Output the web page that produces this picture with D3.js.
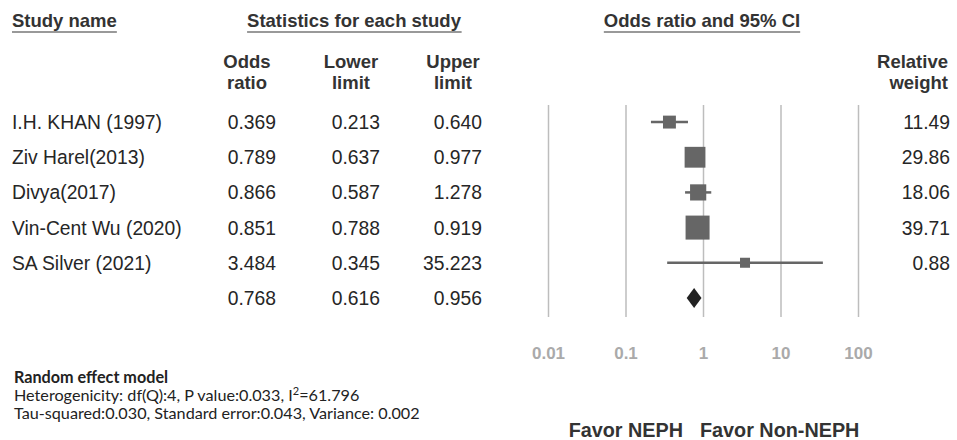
<!DOCTYPE html>
<html>
<head>
<meta charset="utf-8">
<script src="https://cdn.jsdelivr.net/npm/d3@7"></script>
<style>
  body { margin: 0; background: #fff; }
  svg { display: block; font-family: 'Liberation Sans', Arial, sans-serif; }
</style>
</head>
<body>
<div id="chart"></div>
<script>
// Data
const studies = ['I.H. KHAN (1997)', 'Ziv Harel(2013)', 'Divya(2017)', 'Vin-Cent Wu (2020)', 'SA Silver (2021)']
const oddsRatio = [0.369, 0.789, 0.866, 0.851, 3.484]
const lowerLimit = [0.213, 0.637, 0.587, 0.788, 0.345]
const upperLimit = [0.640, 0.977, 1.278, 0.919, 35.223]
const relWeight = [11.49, 29.86, 18.06, 39.71, 0.88]
const pooled = [0.768, 0.616, 0.956]
const tickValues = [0.01, 0.1, 1, 10, 100]
const tickLabels = ['0.01', '0.1', '1', '10', '100']

const width = 957
const height = 440

let svg = d3.select('#chart')
            .append('svg')
            .attr('width', width)
            .attr('height', height)

const textColor = '#262626'
const headColor = '#333'

// Scales
let xScale = d3.scaleLog()
    .domain([0.01, 100])
    .range([548, 858])

let rowScale = d3.scaleBand()
    .domain(d3.range(studies.length + 1))
    .range([104.5, 315.5])

let sizeScale = d3.scaleSqrt()
    .domain([0, d3.max(relWeight)])
    .range([0, 24])

const rowY = (i) => rowScale(i) + rowScale.bandwidth() / 2

// Headers
const headers = [
    { text: 'Study name', x: 12, anchor: 'start' },
    { text: 'Statistics for each study', x: 354, anchor: 'middle' },
    { text: 'Odds ratio and 95% CI', x: 702, anchor: 'middle' }
]
headers.forEach((h) => {
    let t = svg.append('text')
        .attr('x', h.x)
        .attr('y', 27)
        .attr('text-anchor', h.anchor)
        .attr('font-size', '18.5px')
        .attr('font-weight', 'bold')
        .attr('fill', headColor)
        .text(h.text)
    const bb = t.node().getBBox()
    svg.append('line')
        .attr('x1', bb.x).attr('x2', bb.x + bb.width)
        .attr('y1', 32).attr('y2', 32)
        .attr('stroke', '#777')
        .attr('stroke-width', 1.5)
})

// Column sub-headers
const colX = [276, 380, 482]
const subHeads = [['Odds', 'ratio'], ['Lower', 'limit'], ['Upper', 'limit']]
subHeads.forEach((lines, c) => {
    lines.forEach((ln, k) => {
        svg.append('text')
            .attr('x', colX[c] - 29)
            .attr('y', 68 + k * 21)
            .attr('text-anchor', 'middle')
            .attr('font-size', '18.5px')
            .attr('font-weight', 'bold')
            .attr('fill', headColor)
            .text(ln)
    })
})
;['Relative', 'weight'].forEach((ln, k) => {
    svg.append('text')
        .attr('x', 948)
        .attr('y', 68 + k * 21)
        .attr('text-anchor', 'end')
        .attr('font-size', '18.5px')
        .attr('font-weight', 'bold')
        .attr('fill', headColor)
        .text(ln)
})

// Axis with gridlines
let xAxis = d3.axisBottom(xScale)
    .tickValues(tickValues)
    .tickFormat((d, i) => tickLabels[i])
    .tickSizeInner(-212)
    .tickSizeOuter(0)
    .tickPadding(30)

let axisG = svg.append('g')
    .attr('transform', 'translate(0,317)')
    .call(xAxis)
axisG.select('.domain').remove()
axisG.selectAll('.tick line')
    .attr('stroke', '#bdbdbd')
    .attr('stroke-width', 1.5)
axisG.selectAll('.tick text')
    .attr('fill', '#aaa')
    .attr('font-size', '17px')
    .attr('font-weight', 'bold')
    .attr('font-family', "'Liberation Sans', Arial, sans-serif")

// Table rows
const rowText = (x, y, txt, anchor) => {
    svg.append('text')
        .attr('x', x)
        .attr('y', y + 7)
        .attr('text-anchor', anchor)
        .attr('font-size', '19.3px')
        .attr('fill', textColor)
        .text(txt)
}
studies.forEach((s, i) => {
    const y = rowY(i)
    rowText(12, y, s, 'start')
    rowText(colX[0], y, oddsRatio[i].toFixed(3), 'end')
    rowText(colX[1], y, lowerLimit[i].toFixed(3), 'end')
    rowText(colX[2], y, upperLimit[i].toFixed(3), 'end')
    rowText(950, y, relWeight[i].toFixed(2), 'end')
})
const py = rowY(studies.length)
pooled.forEach((v, c) => rowText(colX[c], py, v.toFixed(3), 'end'))

// CI whiskers and boxes
let marks = svg.append('g')
marks.selectAll('line.ci')
    .data(studies)
    .enter()
    .append('line')
    .attr('class', 'ci')
    .attr('x1', (d, i) => xScale(lowerLimit[i]))
    .attr('x2', (d, i) => xScale(upperLimit[i]))
    .attr('y1', (d, i) => rowY(i))
    .attr('y2', (d, i) => rowY(i))
    .attr('stroke', '#666')
    .attr('stroke-width', 2.5)

marks.selectAll('rect.box')
    .data(studies)
    .enter()
    .append('rect')
    .attr('class', 'box')
    .attr('width', (d, i) => Math.max(10, sizeScale(relWeight[i])))
    .attr('height', (d, i) => Math.max(10, sizeScale(relWeight[i])))
    .attr('x', (d, i) => xScale(oddsRatio[i]) - Math.max(10, sizeScale(relWeight[i])) / 2)
    .attr('y', (d, i) => rowY(i) - Math.max(10, sizeScale(relWeight[i])) / 2)
    .attr('fill', '#666')

// Pooled diamond
const dx0 = xScale(pooled[1])
const dx1 = xScale(pooled[2])
const dxc = xScale(pooled[0])
svg.append('path')
    .attr('d', `M${dx0},${py} L${dxc},${py - 10} L${dx1},${py} L${dxc},${py + 10} Z`)
    .attr('fill', '#222')

// Favor labels
svg.append('text')
    .attr('x', 683).attr('y', 437)
    .attr('text-anchor', 'end')
    .attr('font-size', '19.8px')
    .attr('font-weight', 'bold')
    .attr('fill', headColor)
    .text('Favor NEPH')
svg.append('text')
    .attr('x', 700).attr('y', 437)
    .attr('text-anchor', 'start')
    .attr('font-size', '19.8px')
    .attr('font-weight', 'bold')
    .attr('fill', headColor)
    .text('Favor Non-NEPH')

// Model notes
let notes = svg.append('g')
    .attr('font-family', "Lato, 'Open Sans', sans-serif")
    .attr('font-size', '16.2px')
    .attr('fill', '#222')
notes.append('text')
    .attr('x', 14).attr('y', 383)
    .attr('font-weight', 'bold')
    .text('Random effect model')
let het = notes.append('text')
    .attr('x', 14).attr('y', 401)
het.append('tspan').text('Heterogenicity: df(Q):4,  P value:0.033, I')
het.append('tspan').attr('dy', -6).attr('font-size', '11px').text('2')
het.append('tspan').attr('dy', 6).text('=61.796')
notes.append('text')
    .attr('x', 14).attr('y', 419)
    .text('Tau-squared:0.030, Standard error:0.043,  Variance: 0.002')
</script>
</body>
</html>
